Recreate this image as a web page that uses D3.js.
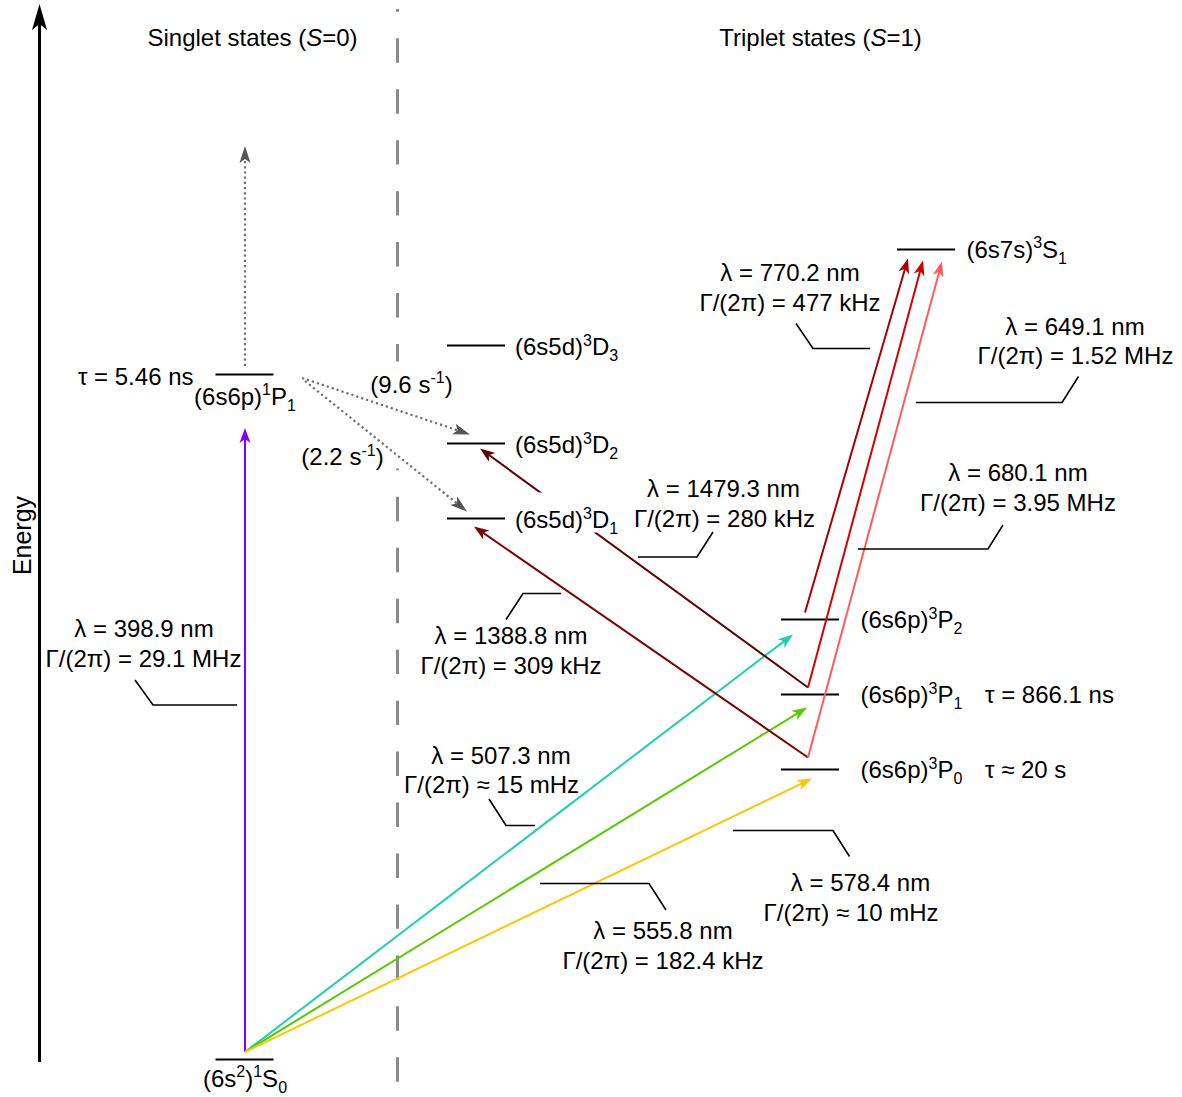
<!DOCTYPE html>
<html>
<head>
<meta charset="utf-8">
<script src="https://cdn.jsdelivr.net/npm/d3@7"></script>
<style>
body { margin: 0; background: #fff; }
svg { display: block; font-family: "Liberation Sans", Arial, sans-serif; }
</style>
</head>
<body>
<svg id="diagram" width="1182" height="1097"></svg>
<script>
// --- data -----------------------------------------------------------------
// levels (schematic energy in diagram units, not to scale)
const levelNames    = ['1S0', '1P1', '3D1', '3D2', '3D3', '3P0', '3P1', '3P2', '3S1']
const levelLabels   = ['(6s^{2})^{1}S_{0}', '(6s6p)^{1}P_{1}', '(6s5d)^{3}D_{1}', '(6s5d)^{3}D_{2}', '(6s5d)^{3}D_{3}',
                       '(6s6p)^{3}P_{0}', '(6s6p)^{3}P_{1}', '(6s6p)^{3}P_{2}', '(6s7s)^{3}S_{1}']
const levelColumns  = ['singlet', 'singlet', 'D', 'D', 'D', 'P', 'P', 'P', 'S']
const levelEnergy   = [0, 685, 541, 616, 714, 290, 365, 440, 810]
const levelLifetime = ['', 'τ = 5.46 ns', '', '', '', 'τ ≈ 20 s', 'τ = 866.1 ns', '', '']
const continuumEnergy = 913.5

// laser transitions
const transFrom   = ['1S0', '1S0', '1S0', '1S0', '3P0', '3P1', '3P2', '3P1', '3P0']
const transTo     = ['1P1', '3P2', '3P1', '3P0', '3D1', '3D2', '3S1', '3S1', '3S1']
const wavelengths = ['398.9', '507.3', '555.8', '578.4', '1388.8', '1479.3', '770.2', '680.1', '649.1']
const linewidths  = ['= 29.1 MHz', '≈ 15 mHz', '= 182.4 kHz', '≈ 10 mHz', '= 309 kHz', '= 280 kHz',
                     '= 477 kHz', '= 3.95 MHz', '= 1.52 MHz']
const transColors = ['#7f00ff', '#1fcfb1', '#55cc00', '#ffc700', '#800000', '#600000', '#a80000', '#d50000', '#ff5b5b']

// weak decays out of 1P1 (dotted)
const decayFrom  = ['1P1', '1P1', '1P1']
const decayTo    = ['3D2', '3D1', 'continuum']
const decayRates = ['(9.6 s^{-1})', '(2.2 s^{-1})', '']

// --- layout ---------------------------------------------------------------
const svg = d3.select('#diagram')
const y = d3.scaleLinear().domain([0, 1000]).range([1059.5, 59.5])
const x = d3.scaleOrdinal().domain(['singlet', 'D', 'P', 'S']).range([244.5, 476, 810, 926])
const halfLen = 29

// where arrows leave / arrive, px from the level centre
const transEnds = [
  {s: [0.5, -7.5], t: [0.5, 53.5]},
  {s: [0.5, -7.5], t: [-17, 15]},
  {s: [0.5, -7.5], t: [-3, 13]},
  {s: [0.5, -7.5], t: [2, 9]},
  {s: [-2, -12], t: [-2, 8]},
  {s: [-2, -7], t: [4, 5]},
  {s: [-5, -7], t: [-18, 9]},
  {s: [-2, -7], t: [-3, 11]},
  {s: [-2, -12], t: [16, 12]}
]
const decayEnds = [
  {s: [57.5, 3.5], t: [-6, -9]},
  {s: [60.5, 6.5], t: [-9, -7]},
  {s: [0.5, -8.5], t: [0.5, 0]}
]
// label anchors (centre x, baseline y) and leader polylines
const transLabelPos = [
  {l: [144, 636.5], g: [143.5, 666.5], lead: [[237, 705], [153, 705], [135, 680]]},
  {l: [501, 763.5], g: [491.5, 792.5], lead: [[535, 825.5], [506, 825.5], [489, 799]]},
  {l: [663, 938.5], g: [663, 968.5], lead: [[540, 883.5], [649, 883.5], [666, 910]]},
  {l: [860.5, 890.5], g: [851, 920.5], lead: [[733, 830.5], [833, 830.5], [849.5, 856.5]]},
  {l: [511, 643.5], g: [511, 673.5], lead: [[561, 593.5], [523, 593.5], [506, 619.5]]},
  {l: [723.5, 496.5], g: [724.5, 526.5], lead: [[638, 557], [697, 557], [713, 532]]},
  {l: [790, 281], g: [790, 311], lead: [[870, 348.5], [813, 348.5], [796, 323.5]]},
  {l: [1018, 480.5], g: [1018, 510.5], lead: [[858, 549], [988, 549], [1003, 525]]},
  {l: [1075, 335], g: [1075.5, 363.5], lead: [[916, 402.5], [1062, 402.5], [1078.5, 376.5]]}
]
const decayLabelPos = [[411.5, 392.5], [342.5, 465]]

const byName = {}
levelNames.forEach((n, i) => byName[n] = {name: n, col: levelColumns[i], e: levelEnergy[i]})
byName.continuum = {name: 'continuum', col: 'singlet', e: continuumEnergy}

function pt(name, off) {
  const d = byName[name]
  return [x(d.col) + off[0], y(d.e) + off[1]]
}

// text with ^{sup}, _{sub} and *italic*
function richText(sel, str) {
  const parts = str.split(/(\^\{[^}]*\}|_\{[^}]*\}|\*[^*]*\*)/).filter(s => s.length)
  let shift = 0
  parts.forEach(p => {
    let txt = p, size = null, target = 0, italic = false
    if (p.startsWith('^{')) { txt = p.slice(2, -1); size = 16; target = -9.5 }
    else if (p.startsWith('_{')) { txt = p.slice(2, -1); size = 16; target = 6 }
    else if (p.startsWith('*')) { txt = p.slice(1, -1); italic = true }
    const t = sel.append('tspan').attr('dy', target - shift).text(txt)
    if (size) t.attr('font-size', size)
    if (italic) t.attr('font-style', 'italic')
    shift = target
  })
  return sel
}

function addText(g, str, px, py, anchor) {
  return richText(g.append('text').attr('x', px).attr('y', py)
    .attr('font-size', 24).attr('fill', '#000').attr('text-anchor', anchor || 'middle'), str)
}

// arrowhead markers
const defs = svg.append('defs')
const tipShift = 6
function makeMarker(id, color, len, hw, notch) {
  defs.append('marker').attr('id', id)
    .attr('markerUnits', 'userSpaceOnUse')
    .attr('viewBox', '-40 -20 60 40').attr('markerWidth', 60).attr('markerHeight', 40)
    .attr('refX', 0).attr('refY', 0).attr('orient', 'auto')
    .append('path')
    .attr('d', `M${tipShift},0 L${tipShift - len},${-hw} L${tipShift - len + notch},0 L${tipShift - len},${hw} Z`)
    .attr('fill', color)
}
transColors.forEach((c, i) => makeMarker('m' + i, c, 15, 5.5, 4))
makeMarker('mgray', '#555', 17, 5.5, 4)
defs.append('marker').attr('id', 'maxis')
  .attr('markerUnits', 'userSpaceOnUse')
  .attr('viewBox', '-40 -20 60 40').attr('markerWidth', 60).attr('markerHeight', 40)
  .attr('refX', 0).attr('refY', 0).attr('orient', 'auto')
  .append('path').attr('d', 'M6,0 L-20,-7.5 L-14,0 L-20,7.5 Z').attr('fill', '#000')

// line shortened so that the marker tip lands on the end point
function arrowLine(g, a, b) {
  const dx = b[0] - a[0], dy = b[1] - a[1], L = Math.hypot(dx, dy)
  return g.append('line').attr('x1', a[0]).attr('y1', a[1])
    .attr('x2', b[0] - dx / L * tipShift).attr('y2', b[1] - dy / L * tipShift)
}

// --- drawing --------------------------------------------------------------
// energy axis
arrowLine(svg, [39.5, 1062], [39.5, 4]).attr('stroke', '#000').attr('stroke-width', 3)
  .attr('marker-end', 'url(#maxis)')
svg.append('text').attr('transform', 'translate(31,535.5) rotate(-90)')
  .attr('text-anchor', 'middle').attr('font-size', 25).text('Energy')

// singlet / triplet divider
svg.append('line').attr('x1', 397.5).attr('x2', 397.5).attr('y1', 9).attr('y2', 1082)
  .attr('stroke', '#8a8a8a').attr('stroke-width', 3)
  .attr('stroke-dasharray', '24.4 26.55').attr('stroke-dashoffset', 21.65)

addText(svg, 'Singlet states (*S*=0)', 252.5, 46)
addText(svg, 'Triplet states (*S*=1)', 820.5, 46)

// knock-outs behind the decay-rate labels
svg.append('rect').attr('x', 365).attr('y', 361.5).attr('width', 93).attr('height', 60).attr('fill', '#fff')
svg.append('rect').attr('x', 296).attr('y', 440).attr('width', 104).attr('height', 28.5).attr('fill', '#fff')

// levels
const levelG = svg.append('g')
levelNames.forEach((n, i) => {
  const cx = x(levelColumns[i]), ly = y(levelEnergy[i])
  levelG.append('line').attr('x1', cx - halfLen).attr('x2', cx + halfLen)
    .attr('y1', ly).attr('y2', ly).attr('stroke', '#000').attr('stroke-width', 2.2)
})

// weak decays (dotted)
decayFrom.forEach((f, i) => {
  const a = pt(f, decayEnds[i].s), b = pt(decayTo[i], decayEnds[i].t)
  arrowLine(svg, a, b).attr('stroke', '#6e6e6e').attr('stroke-width', 2.2)
    .attr('stroke-dasharray', '2.2 3').attr('marker-end', 'url(#mgray)')
  if (decayRates[i]) addText(svg, decayRates[i], decayLabelPos[i][0], decayLabelPos[i][1])
})

// laser transitions
transFrom.forEach((f, i) => {
  const a = pt(f, transEnds[i].s), b = pt(transTo[i], transEnds[i].t)
  arrowLine(svg, a, b).attr('stroke', transColors[i]).attr('stroke-width', 2)
    .attr('marker-end', `url(#m${i})`)
})

// transition labels + leader lines
transFrom.forEach((f, i) => {
  const p = transLabelPos[i]
  svg.append('path').attr('d', d3.line()(p.lead))
    .attr('fill', 'none').attr('stroke', '#000').attr('stroke-width', 1.6)
  addText(svg, 'λ = ' + wavelengths[i] + ' nm', p.l[0], p.l[1])
  addText(svg, 'Γ/(2π) ' + linewidths[i], p.g[0], p.g[1])
})

// level labels
levelNames.forEach((n, i) => {
  const cx = x(levelColumns[i]), ly = y(levelEnergy[i]), col = levelColumns[i]
  if (n === '1S0') addText(svg, levelLabels[i], cx + 0.5, ly + 27)
  else if (n === '1P1') addText(svg, levelLabels[i], cx + 0.5, ly + 30)
  else if (col === 'D') {
    if (n === '3D1') svg.append('rect').attr('x', 510).attr('y', ly - 26).attr('width', 112).attr('height', 40).attr('fill', '#fff')
    addText(svg, levelLabels[i], cx + 39, ly + 9.5, 'start')
  }
  else if (col === 'P') addText(svg, levelLabels[i], cx + 50.5, ly + 8.5, 'start')
  else addText(svg, levelLabels[i], cx + 40.5, ly + 8, 'start')

  if (levelLifetime[i]) {
    if (col === 'singlet') addText(svg, levelLifetime[i], cx - 51, ly + 10, 'end')
    else addText(svg, levelLifetime[i], 985, ly + 8.5, 'start')
  }
})
</script>
</body>
</html>
